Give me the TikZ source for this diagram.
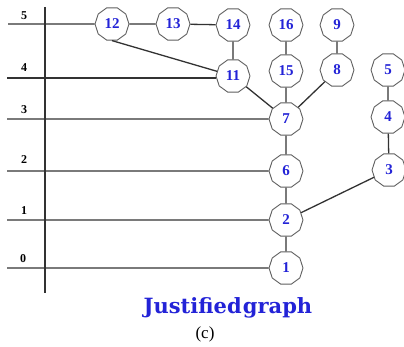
\documentclass[tikz,border=0pt]{standalone}
\usepackage{fontspec}
\setmainfont{Liberation Serif}
\newfontfamily\titlefont{DejaVu Serif}
\usetikzlibrary{shapes.geometric}
\definecolor{nblue}{RGB}{35,35,215}
\definecolor{lgray}{RGB}{50,50,50}
\definecolor{bgray}{RGB}{95,95,95}
\begin{document}
\begin{tikzpicture}[x=1pt,y=-1pt,
  vert/.style={regular polygon, regular polygon sides=10, draw=bgray, line width=0.9pt, fill=white,
    minimum size=34pt, inner sep=0pt, text=nblue, font=\bfseries\fontsize{15}{15}\selectfont},
  lvl/.style={font=\bfseries\fontsize{12}{12}\selectfont, inner sep=0pt},
  edge/.style={draw=lgray, line width=1.3pt}]
\useasboundingbox (0,0) rectangle (404,347);
% axis
\coordinate (axT) at (45,7);
\coordinate (axB) at (45,293);
\draw[edge] (axT) -- (axB);
% level start points
\coordinate (s5) at (8,24);
\coordinate (s4) at (7,78);
\coordinate (s3) at (7,119);
\coordinate (s2) at (7,171);
\coordinate (s1) at (7,220);
\coordinate (s0) at (7,268);
\node[lvl] (l5) at (24,16) {5};
\node[lvl] (l4) at (24,68) {4};
\node[lvl] (l3) at (24,110) {3};
\node[lvl] (l2) at (24,160) {2};
\node[lvl] (l1) at (24,211) {1};
\node[lvl] (l0) at (23,259) {0};
% nodes
\node[vert] (n12) at (112,24) {12};
\node[vert] (n13) at (173,24) {13};
\node[vert] (n14) at (233,25) {14};
\node[vert] (n16) at (286,25) {16};
\node[vert] (n9) at (337,25) {9};
\node[vert] (n11) at (233,76) {11};
\node[vert] (n15) at (286,71) {15};
\node[vert] (n8) at (337,70) {8};
\node[vert] (n5) at (388,70) {5};
\node[vert] (n7) at (286,119) {7};
\node[vert] (n4) at (388,117) {4};
\node[vert] (n6) at (286,171) {6};
\node[vert] (n3) at (389,170) {3};
\node[vert] (n2) at (286,220) {2};
\node[vert] (n1) at (286,268) {1};
% edges
\draw[edge] (s5) -- (n12);
\draw[edge] (s4) -- (s4 -| n11.west);
\draw[edge] (s3) -- (n7);
\draw[edge] (s2) -- (n6);
\draw[edge] (s1) -- (n2);
\draw[edge] (s0) -- (n1);
\draw[edge] (n12) -- (n13);
\draw[edge] (n13) -- (n14);
\draw[edge] (n12.south) -- (n11);
\draw[edge] (n14) -- (n11);
\draw[edge] (n11) -- (n7);
\draw[edge] (n16) -- (n15);
\draw[edge] (n15) -- (n7);
\draw[edge] (n9) -- (n8);
\draw[edge] (n8) -- (n7);
\draw[edge] (n7) -- (n6);
\draw[edge] (n6) -- (n2);
\draw[edge] (n2) -- (n1);
\draw[edge] (n5) -- (n4);
\draw[edge] (n4) -- (n3);
\draw[edge] (n3) -- (n2);
% titles
\node[text=nblue, font=\titlefont\bfseries\fontsize{21}{21}\selectfont, inner sep=0pt] (title) at (228,308) {Justified\hspace{0.06em}graph};
\node[font=\fontsize{17}{17}\selectfont, inner sep=0pt] (cap) at (205,334) {(c)};
\end{tikzpicture}
\end{document}
